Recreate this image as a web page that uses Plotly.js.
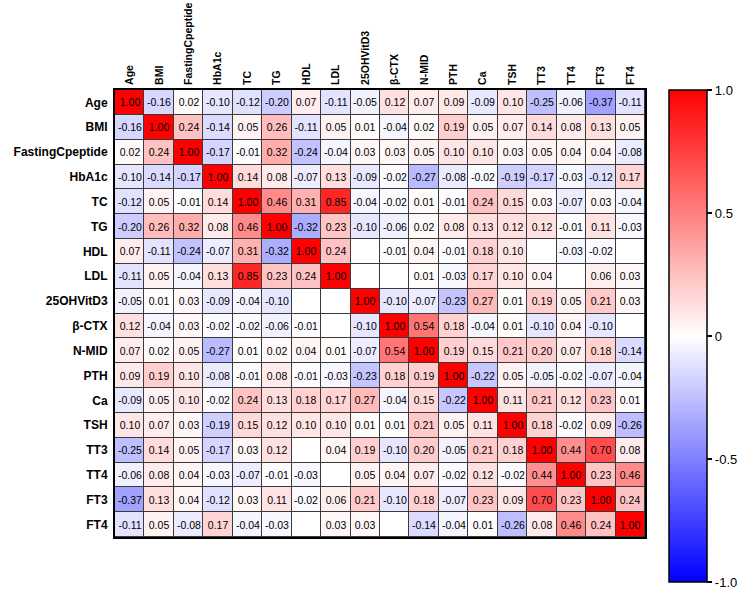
<!DOCTYPE html>
<html>
<head>
<meta charset="utf-8">
<script src="https://cdn.plot.ly/plotly-3.0.1.min.js"></script>
<style>html,body{margin:0;padding:0;background:#fff;}#chart{width:750px;height:592px;}</style>
</head>
<body>
<div id="chart"></div>
<script>
var labels = ["Age","BMI","FastingCpeptide","HbA1c","TC","TG","HDL","LDL","25OHVitD3","β-CTX","N-MID","PTH","Ca","TSH","TT3","TT4","FT3","FT4"];

var rowAge    = [1.00,-0.16,0.02,-0.10,-0.12,-0.20,0.07,-0.11,-0.05,0.12,0.07,0.09,-0.09,0.10,-0.25,-0.06,-0.37,-0.11];
var rowBMI    = [-0.16,1.00,0.24,-0.14,0.05,0.26,-0.11,0.05,0.01,-0.04,0.02,0.19,0.05,0.07,0.14,0.08,0.13,0.05];
var rowFCp    = [0.02,0.24,1.00,-0.17,-0.01,0.32,-0.24,-0.04,0.03,0.03,0.05,0.10,0.10,0.03,0.05,0.04,0.04,-0.08];
var rowHbA1c  = [-0.10,-0.14,-0.17,1.00,0.14,0.08,-0.07,0.13,-0.09,-0.02,-0.27,-0.08,-0.02,-0.19,-0.17,-0.03,-0.12,0.17];
var rowTC     = [-0.12,0.05,-0.01,0.14,1.00,0.46,0.31,0.85,-0.04,-0.02,0.01,-0.01,0.24,0.15,0.03,-0.07,0.03,-0.04];
var rowTG     = [-0.20,0.26,0.32,0.08,0.46,1.00,-0.32,0.23,-0.10,-0.06,0.02,0.08,0.13,0.12,0.12,-0.01,0.11,-0.03];
var rowHDL    = [0.07,-0.11,-0.24,-0.07,0.31,-0.32,1.00,0.24,null,-0.01,0.04,-0.01,0.18,0.10,null,-0.03,-0.02,null];
var rowLDL    = [-0.11,0.05,-0.04,0.13,0.85,0.23,0.24,1.00,null,null,0.01,-0.03,0.17,0.10,0.04,null,0.06,0.03];
var rowVitD   = [-0.05,0.01,0.03,-0.09,-0.04,-0.10,null,null,1.00,-0.10,-0.07,-0.23,0.27,0.01,0.19,0.05,0.21,0.03];
var rowCTX    = [0.12,-0.04,0.03,-0.02,-0.02,-0.06,-0.01,null,-0.10,1.00,0.54,0.18,-0.04,0.01,-0.10,0.04,-0.10,null];
var rowNMID   = [0.07,0.02,0.05,-0.27,0.01,0.02,0.04,0.01,-0.07,0.54,1.00,0.19,0.15,0.21,0.20,0.07,0.18,-0.14];
var rowPTH    = [0.09,0.19,0.10,-0.08,-0.01,0.08,-0.01,-0.03,-0.23,0.18,0.19,1.00,-0.22,0.05,-0.05,-0.02,-0.07,-0.04];
var rowCa     = [-0.09,0.05,0.10,-0.02,0.24,0.13,0.18,0.17,0.27,-0.04,0.15,-0.22,1.00,0.11,0.21,0.12,0.23,0.01];
var rowTSH    = [0.10,0.07,0.03,-0.19,0.15,0.12,0.10,0.10,0.01,0.01,0.21,0.05,0.11,1.00,0.18,-0.02,0.09,-0.26];
var rowTT3    = [-0.25,0.14,0.05,-0.17,0.03,0.12,null,0.04,0.19,-0.10,0.20,-0.05,0.21,0.18,1.00,0.44,0.70,0.08];
var rowTT4    = [-0.06,0.08,0.04,-0.03,-0.07,-0.01,-0.03,null,0.05,0.04,0.07,-0.02,0.12,-0.02,0.44,1.00,0.23,0.46];
var rowFT3    = [-0.37,0.13,0.04,-0.12,0.03,0.11,-0.02,0.06,0.21,-0.10,0.18,-0.07,0.23,0.09,0.70,0.23,1.00,0.24];
var rowFT4    = [-0.11,0.05,-0.08,0.17,-0.04,-0.03,null,0.03,0.03,null,-0.14,-0.04,0.01,-0.26,0.08,0.46,0.24,1.00];

var colorbarTickVals = [-1, -0.5, 0, 0.5, 1];
var colorbarTickText = ["-1.0", "-0.5", "0", "0.5", "1.0"];

var z = [rowAge,rowBMI,rowFCp,rowHbA1c,rowTC,rowTG,rowHDL,rowLDL,rowVitD,rowCTX,rowNMID,rowPTH,rowCa,rowTSH,rowTT3,rowTT4,rowFT3,rowFT4];
var txt = z.map(function(r){ return r.map(function(v){ return v === null ? "" : v.toFixed(2); }); });
var mask = z.map(function(r){ return r.map(function(v){ return v === null ? 0 : null; }); });

var FONT = "Arial, 'Liberation Sans', sans-serif";

var blank = {
  type: "heatmap", x: labels, y: labels, z: mask,
  colorscale: [[0,"#ffffff"],[1,"#ffffff"]], zmin: 0, zmax: 1,
  showscale: false, xgap: 1, ygap: 1, hoverinfo: "skip"
};

var heat = {
  type: "heatmap", x: labels, y: labels, z: z,
  text: txt, texttemplate: "%{text}",
  textfont: {family: FONT, size: 10.5, color: "#000"},
  colorscale: [[0,"rgb(0,0,255)"],[0.5,"rgb(255,255,255)"],[1,"rgb(255,0,0)"]],
  zmin: -1, zmax: 1, xgap: 1, ygap: 1,
  colorbar: {
    x: 1.045, xanchor: "left", y: 1, yanchor: "top",
    lenmode: "pixels", len: 492, thickness: 38, thicknessmode: "pixels",
    outlinewidth: 1.5, outlinecolor: "#000",
    tickmode: "array", tickvals: colorbarTickVals, ticktext: colorbarTickText,
    ticks: "outside", ticklen: 5, tickwidth: 1.5, tickcolor: "#000",
    tickfont: {family: FONT, size: 13, color: "#000"}, xpad: 0, ypad: 0
  }
};

var layout = {
  width: 750, height: 592,
  margin: {l: 115, r: 102, t: 90, b: 55},
  paper_bgcolor: "#fff", plot_bgcolor: "#3a3a3a",
  font: {family: FONT, color: "#000"},
  xaxis: {
    side: "top", tickangle: -90, type: "category",
    tickfont: {family: FONT, size: 10.5, color: "#000", weight: "bold"},
    showline: true, mirror: true, linewidth: 2, linecolor: "#000",
    showgrid: false, zeroline: false, ticks: "", ticklabelstandoff: 1
  },
  yaxis: {
    autorange: "reversed", type: "category",
    tickfont: {family: FONT, size: 12, color: "#000", weight: "bold"},
    showline: true, mirror: true, linewidth: 2, linecolor: "#000",
    showgrid: false, zeroline: false, ticks: "", ticklabelstandoff: 3
  },
  showlegend: false
};

Plotly.newPlot("chart", [blank, heat], layout, {displayModeBar: false, staticPlot: true});
</script>
</body>
</html>
